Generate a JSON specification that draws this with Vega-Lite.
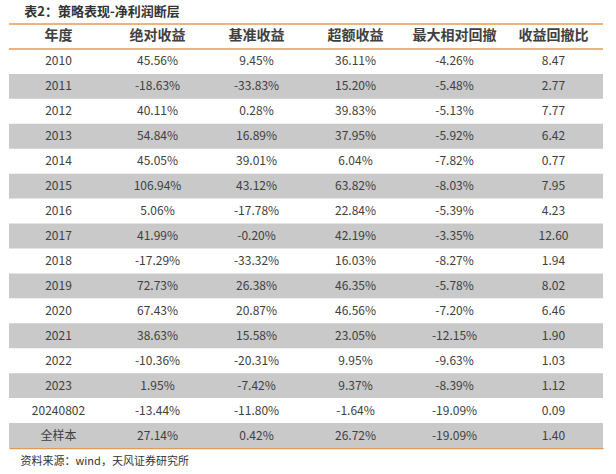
{
  "$schema": "https://vega.github.io/schema/vega-lite/v6.json",
  "autosize": "none",
  "width": 594,
  "height": 424,
  "padding": {"left": 9, "top": 24, "right": 13, "bottom": 26},
  "background": "white",
  "title": {
    "text": "表2：策略表现-净利润断层",
    "anchor": "start",
    "dx": 16,
    "offset": 4,
    "fontSize": 13,
    "fontWeight": "bold",
    "color": "#333333",
    "font": "Noto Sans CJK SC"
  },
  "config": {
    "view": {"stroke": null},
    "font": "Noto Sans CJK SC"
  },
  "datasets": {
    "table": [
      {"年度": "2010", "绝对收益": "45.56%", "基准收益": "9.45%", "超额收益": "36.11%", "最大相对回撤": "-4.26%", "收益回撤比": "8.47"},
      {"年度": "2011", "绝对收益": "-18.63%", "基准收益": "-33.83%", "超额收益": "15.20%", "最大相对回撤": "-5.48%", "收益回撤比": "2.77"},
      {"年度": "2012", "绝对收益": "40.11%", "基准收益": "0.28%", "超额收益": "39.83%", "最大相对回撤": "-5.13%", "收益回撤比": "7.77"},
      {"年度": "2013", "绝对收益": "54.84%", "基准收益": "16.89%", "超额收益": "37.95%", "最大相对回撤": "-5.92%", "收益回撤比": "6.42"},
      {"年度": "2014", "绝对收益": "45.05%", "基准收益": "39.01%", "超额收益": "6.04%", "最大相对回撤": "-7.82%", "收益回撤比": "0.77"},
      {"年度": "2015", "绝对收益": "106.94%", "基准收益": "43.12%", "超额收益": "63.82%", "最大相对回撤": "-8.03%", "收益回撤比": "7.95"},
      {"年度": "2016", "绝对收益": "5.06%", "基准收益": "-17.78%", "超额收益": "22.84%", "最大相对回撤": "-5.39%", "收益回撤比": "4.23"},
      {"年度": "2017", "绝对收益": "41.99%", "基准收益": "-0.20%", "超额收益": "42.19%", "最大相对回撤": "-3.35%", "收益回撤比": "12.60"},
      {"年度": "2018", "绝对收益": "-17.29%", "基准收益": "-33.32%", "超额收益": "16.03%", "最大相对回撤": "-8.27%", "收益回撤比": "1.94"},
      {"年度": "2019", "绝对收益": "72.73%", "基准收益": "26.38%", "超额收益": "46.35%", "最大相对回撤": "-5.78%", "收益回撤比": "8.02"},
      {"年度": "2020", "绝对收益": "67.43%", "基准收益": "20.87%", "超额收益": "46.56%", "最大相对回撤": "-7.20%", "收益回撤比": "6.46"},
      {"年度": "2021", "绝对收益": "38.63%", "基准收益": "15.58%", "超额收益": "23.05%", "最大相对回撤": "-12.15%", "收益回撤比": "1.90"},
      {"年度": "2022", "绝对收益": "-10.36%", "基准收益": "-20.31%", "超额收益": "9.95%", "最大相对回撤": "-9.63%", "收益回撤比": "1.03"},
      {"年度": "2023", "绝对收益": "1.95%", "基准收益": "-7.42%", "超额收益": "9.37%", "最大相对回撤": "-8.39%", "收益回撤比": "1.12"},
      {"年度": "20240802", "绝对收益": "-13.44%", "基准收益": "-11.80%", "超额收益": "-1.64%", "最大相对回撤": "-19.09%", "收益回撤比": "0.09"},
      {"年度": "全样本", "绝对收益": "27.14%", "基准收益": "0.42%", "超额收益": "26.72%", "最大相对回撤": "-19.09%", "收益回撤比": "1.40"}
    ],
    "header": [
      {"col": "年度", "row": "年度"},
      {"col": "绝对收益", "row": "年度"},
      {"col": "基准收益", "row": "年度"},
      {"col": "超额收益", "row": "年度"},
      {"col": "最大相对回撤", "row": "年度"},
      {"col": "收益回撤比", "row": "年度"}
    ],
    "lines": [
      {"row": "年度"},
      {"row": "2010"}
    ]
  },
  "layer": [
    {
      "data": {"name": "table"},
      "transform": [
        {"filter": {"field": "年度", "oneOf": ["2011", "2013", "2015", "2017", "2019", "2021", "2023", "全样本"]}}
      ],
      "mark": {"type": "rect", "color": "#c9c9c9"},
      "encoding": {
        "y": {
          "field": "年度",
          "type": "nominal",
          "scale": {"domain": ["年度", "2010", "2011", "2012", "2013", "2014", "2015", "2016", "2017", "2018", "2019", "2020", "2021", "2022", "2023", "20240802", "全样本"], "paddingInner": 0, "paddingOuter": 0},
          "axis": null
        }
      }
    },
    {
      "data": {"name": "lines"},
      "mark": {"type": "rule", "color": "#e39a57", "strokeWidth": 1.5},
      "encoding": {
        "y": {"field": "row", "type": "nominal", "bandPosition": 0}
      }
    },
    {
      "data": {"name": "header"},
      "mark": {"type": "text", "fontSize": 14, "fontWeight": "bold", "color": "#404040", "baseline": "middle"},
      "encoding": {
        "x": {"field": "col", "type": "nominal"},
        "y": {"field": "row", "type": "nominal"},
        "text": {"field": "col"}
      }
    },
    {
      "data": {"name": "table"},
      "transform": [
        {"fold": ["年度", "绝对收益", "基准收益", "超额收益", "最大相对回撤", "收益回撤比"], "as": ["col", "val"]}
      ],
      "mark": {"type": "text", "fontSize": 12, "color": "#404040", "baseline": "middle"},
      "encoding": {
        "x": {
          "field": "col",
          "type": "nominal",
          "scale": {"domain": ["年度", "绝对收益", "基准收益", "超额收益", "最大相对回撤", "收益回撤比"], "paddingInner": 0, "paddingOuter": 0},
          "axis": {
            "orient": "bottom",
            "labels": false,
            "ticks": false,
            "grid": false,
            "domain": true,
            "domainColor": "#e39a57",
            "domainWidth": 1.5,
            "title": "资料来源：wind，天风证券研究所",
            "titleFontSize": 11,
            "titleFontWeight": "normal",
            "titleColor": "#333333",
            "titleAnchor": "start",
            "titleAlign": "left",
            "titleX": 11,
            "titleY": 13,
            "titleBaseline": "middle"
          }
        },
        "y": {"field": "年度", "type": "nominal"},
        "text": {"field": "val"}
      }
    }
  ]
}
